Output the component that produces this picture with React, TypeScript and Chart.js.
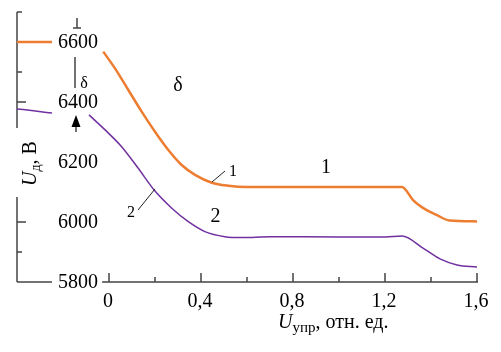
import React, { useEffect, useRef } from "react";
import { Chart, registerables } from "chart.js";

Chart.register(...registerables);

// Curve 1 (orange)
const curve1X = [-0.025, 0.026, 0.084, 0.142, 0.2, 0.258, 0.316, 0.374, 0.447, 0.519, 0.6, 0.8, 1.0, 1.274, 1.322, 1.365, 1.426, 1.48, 1.6];
const curve1Y = [6568, 6512, 6440, 6368, 6301, 6240, 6190, 6157, 6131, 6121, 6117, 6117, 6117, 6117, 6073, 6047, 6023, 6005, 6002];
// Curve 1 stub left of the axis labels
const stub1X = [-0.4, -0.248];
const stub1Y = [6600, 6600];

// Curve 2 (purple)
const curve2X = [-0.087, -0.017, 0.055, 0.127, 0.2, 0.273, 0.345, 0.417, 0.504, 0.577, 0.7, 1.0, 1.2, 1.274, 1.365, 1.439, 1.513, 1.6];
const curve2Y = [6357, 6307, 6251, 6179, 6103, 6046, 6001, 5968, 5951, 5948, 5951, 5950, 5950, 5953, 5913, 5877, 5857, 5850];
const stub2X = [-0.4, -0.32, -0.248];
const stub2Y = [6377, 6370, 6363];

// Axes
const xMin = -0.4;
const xMax = 1.6;
const yMin = 5800;
const yMax = 6700;
const xMajorTicks = [0, 0.4, 0.8, 1.2, 1.6];
const xMinorTicks = [0.2, 0.6, 1.0, 1.4];
const xTickLabels = ["0", "0,4", "0,8", "1,2", "1,6"];
const yLabelValues = [5800, 6000, 6200, 6400, 6600];
const yTickLabels = ["5800", "6000", "6200", "6400", "6600"];
const yMajorTicks = [6000, 6400];
const yMinorTicks = [5900, 6500, 6700];
const yAxisGap = [6083, 6313];
const xAxisGap = [-0.248, -0.03];

const ORANGE = "#ED7D31";
const PURPLE = "#7030A0";
const AXIS = "#444444";
const SERIF = '"Liberation Serif", "Times New Roman", "DejaVu Serif", serif';

const pts = (xs: number[], ys: number[]) => xs.map((x, i) => ({ x, y: ys[i] }));

export default function App() {
  const ref = useRef<HTMLCanvasElement>(null);

  useEffect(() => {
    const canvas = ref.current!;
    let chart: Chart | null = null;
    let cancelled = false;

    const decor = {
      id: "decor",
      beforeDatasetsDraw(c: any) {
        const ctx = c.ctx as CanvasRenderingContext2D;
        const xs = c.scales.x;
        const ys = c.scales.y;
        const x0 = xs.getPixelForValue(xMin);
        const y0 = ys.getPixelForValue(yMin);
        ctx.save();
        ctx.strokeStyle = AXIS;
        ctx.lineWidth = 1.5;
        ctx.lineCap = "butt";
        ctx.beginPath();
        ctx.moveTo(x0, ys.getPixelForValue(yMax));
        ctx.lineTo(x0, ys.getPixelForValue(yAxisGap[1]));
        ctx.moveTo(x0, ys.getPixelForValue(yAxisGap[0]));
        ctx.lineTo(x0, y0);
        ctx.moveTo(x0, y0);
        ctx.lineTo(xs.getPixelForValue(xAxisGap[0]), y0);
        ctx.moveTo(xs.getPixelForValue(xAxisGap[1]), y0);
        ctx.lineTo(xs.getPixelForValue(xMax) + 1, y0);
        ctx.stroke();
        ctx.beginPath();
        yMajorTicks.forEach((v) => {
          const p = ys.getPixelForValue(v);
          ctx.moveTo(x0, p);
          ctx.lineTo(x0 + 9, p);
        });
        yMinorTicks.forEach((v) => {
          const p = ys.getPixelForValue(v);
          ctx.moveTo(x0, p);
          ctx.lineTo(x0 + 5, p);
        });
        xMajorTicks.forEach((v) => {
          const p = xs.getPixelForValue(v);
          ctx.moveTo(p, y0);
          ctx.lineTo(p, y0 - 9);
        });
        xMinorTicks.forEach((v) => {
          const p = xs.getPixelForValue(v);
          ctx.moveTo(p, y0);
          ctx.lineTo(p, y0 - 5);
        });
        ctx.stroke();

        ctx.fillStyle = "#000";
        ctx.font = `20px ${SERIF}`;
        ctx.textAlign = "right";
        ctx.textBaseline = "middle";
        yLabelValues.forEach((v, i) => {
          ctx.fillText(yTickLabels[i], 98, ys.getPixelForValue(v) + 1);
        });
        ctx.textAlign = "center";
        ctx.textBaseline = "alphabetic";
        xMajorTicks.forEach((v, i) => {
          ctx.fillText(xTickLabels[i], xs.getPixelForValue(v) - 1, 307);
        });

        // X title
        ctx.textAlign = "left";
        let tx = 278;
        ctx.font = `italic 20px ${SERIF}`;
        ctx.fillText("U", tx, 328);
        tx += ctx.measureText("U").width;
        ctx.font = `15px ${SERIF}`;
        ctx.fillText("упр", tx, 332);
        tx += ctx.measureText("упр").width;
        ctx.font = `20px ${SERIF}`;
        ctx.fillText(", отн. ед.", tx, 328);

        // Y title (rotated)
        ctx.save();
        ctx.translate(36, 186);
        ctx.rotate(-Math.PI / 2);
        let ty = 0;
        ctx.font = `italic 20px ${SERIF}`;
        ctx.fillText("U", ty, 0);
        ty += ctx.measureText("U").width;
        ctx.font = `14px ${SERIF}`;
        ctx.fillText("д", ty, 4);
        ty += ctx.measureText("д").width;
        ctx.font = `20px ${SERIF}`;
        ctx.fillText(", В", ty, 0);
        ctx.restore();

        // marks near the labels
        ctx.strokeStyle = AXIS;
        ctx.lineWidth = 1.5;
        ctx.beginPath();
        ctx.moveTo(77, 18);
        ctx.lineTo(77, 28);
        ctx.moveTo(73, 28);
        ctx.lineTo(81, 28);
        ctx.moveTo(75, 57);
        ctx.lineTo(75, 88);
        ctx.moveTo(76, 126);
        ctx.lineTo(76, 132);
        ctx.stroke();
        ctx.fillStyle = "#000";
        ctx.beginPath();
        ctx.moveTo(76, 115);
        ctx.lineTo(80.5, 127);
        ctx.lineTo(71.5, 127);
        ctx.closePath();
        ctx.fill();
        ctx.font = `16px ${SERIF}`;
        ctx.textAlign = "center";
        ctx.textBaseline = "middle";
        ctx.fillText("δ", 84, 84);
        ctx.restore();
      },
      afterDatasetsDraw(c: any) {
        const ctx = c.ctx as CanvasRenderingContext2D;
        ctx.save();
        ctx.fillStyle = "#000";
        ctx.strokeStyle = "#222";
        ctx.lineWidth = 1;
        ctx.textAlign = "center";
        ctx.textBaseline = "middle";
        ctx.beginPath();
        ctx.moveTo(212, 182);
        ctx.lineTo(225, 171);
        ctx.moveTo(138, 210);
        ctx.lineTo(155, 189);
        ctx.stroke();
        ctx.font = `16px ${SERIF}`;
        ctx.fillText("1", 233, 172);
        ctx.fillText("2", 131, 213);
        ctx.font = `20px ${SERIF}`;
        ctx.fillText("1", 326, 168);
        ctx.fillText("2", 215.5, 217);
        ctx.fillText("δ", 178, 86);
        ctx.restore();
      },
    };

    const build = () => {
      if (cancelled) return;
      chart = new Chart(canvas, {
        type: "line",
        data: {
          datasets: [
            { data: pts(curve1X, curve1Y), borderColor: ORANGE, borderWidth: 2.5, cubicInterpolationMode: "monotone" },
            { data: pts(stub1X, stub1Y), borderColor: ORANGE, borderWidth: 2.5 },
            { data: pts(curve2X, curve2Y), borderColor: PURPLE, borderWidth: 1.5, cubicInterpolationMode: "monotone" },
            { data: pts(stub2X, stub2Y), borderColor: PURPLE, borderWidth: 1.5, cubicInterpolationMode: "monotone" },
          ],
        },
        options: {
          responsive: false,
          animation: false,
          layout: { padding: { left: 17, right: 24, top: 12, bottom: 70 } },
          plugins: { legend: { display: false }, tooltip: { enabled: false } },
          elements: { point: { radius: 0 } },
          scales: {
            x: { type: "linear", min: xMin, max: xMax, display: false },
            y: { type: "linear", min: yMin, max: yMax, display: false },
          },
        },
        plugins: [decor],
      } as any);
    };

    const fonts = (document as any).fonts;
    if (fonts && fonts.load) {
      Promise.all([
        fonts.load('20px "Liberation Serif"', "6600δ"),
        fonts.load('italic 20px "Liberation Serif"', "U"),
        fonts.load('15px "Liberation Serif"', "упр"),
      ])
        .catch(() => null)
        .then(() => build());
    } else {
      build();
    }

    return () => {
      cancelled = true;
      if (chart) chart.destroy();
    };
  }, []);

  return (
    <div style={{ position: "fixed", left: 0, top: 0, width: 501, height: 352, background: "#fff" }}>
      <span style={{ position: "absolute", left: -1000, fontFamily: "Liberation Serif" }}>
        6600 <i>U</i> упр δ
      </span>
      <canvas ref={ref} width={501} height={352} style={{ display: "block", width: 501, height: 352 }} />
    </div>
  );
}
